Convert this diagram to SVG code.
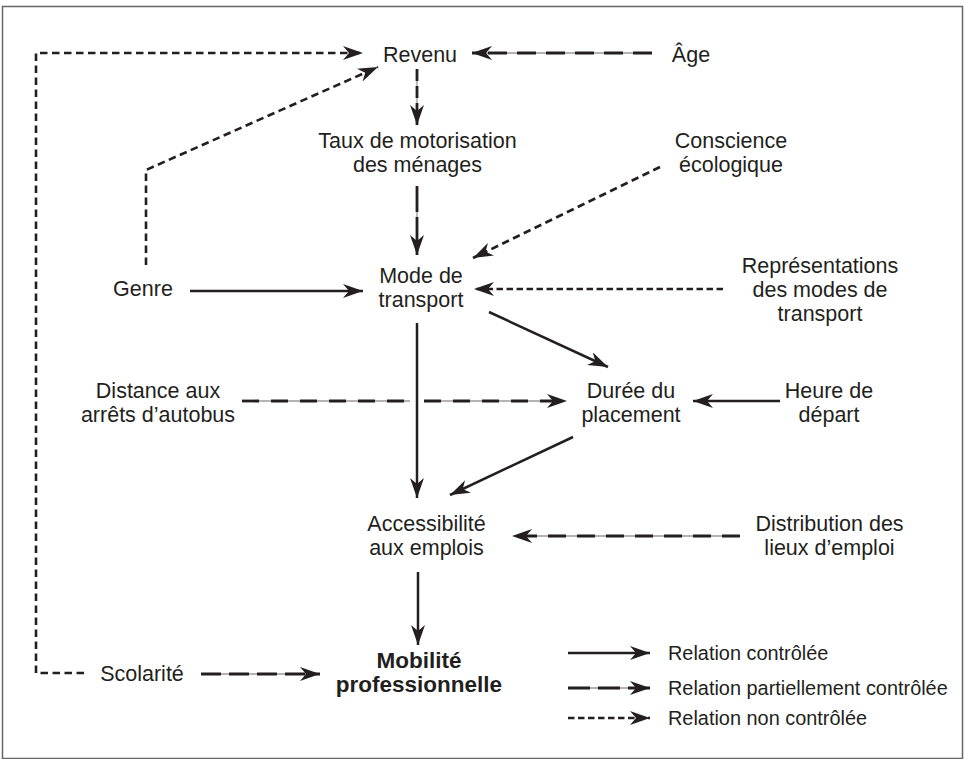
<svg xmlns="http://www.w3.org/2000/svg" width="965" height="759" viewBox="0 0 965 759">
<style>
text{font-family:"Liberation Sans",Arial,sans-serif;font-size:21.5px;fill:#231f20;text-anchor:middle}
.leg{font-size:19.9px;text-anchor:start}
.b{font-weight:bold;font-size:22.5px}
.solid{stroke:#231f20;stroke-width:2.5;fill:none}
.part{stroke:#231f20;stroke-width:2.8;fill:none;stroke-dasharray:19 10}
.grey{stroke:#9a9a9a;stroke-width:1.3;fill:none}
.non{stroke:#231f20;stroke-width:2.6;fill:none;stroke-dasharray:7.5 4.5}
.non2{stroke:#231f20;stroke-width:2.6;fill:none;stroke-dasharray:6.5 3.5}
</style>
<defs>
<marker id="ah" markerUnits="userSpaceOnUse" markerWidth="20" markerHeight="14" viewBox="0 0 20 14" refX="20" refY="7" orient="auto">
<path d="M0,0 L20,7 L0,14 L6,7 z" fill="#231f20"/>
</marker>
</defs>
<rect x="2.5" y="6.5" width="960" height="752" fill="#fff" stroke="#666" stroke-width="1.5"/>

<g id="connectors">
<path class="non" d="M84,673 L36,673 L36,53 L363,53" marker-end="url(#ah)"/>
<path class="non" d="M146,265 L146,170 L378,67" marker-end="url(#ah)"/>
<line class="grey" x1="652" y1="53" x2="478" y2="53"/>
<line class="part" x1="652" y1="53" x2="472" y2="53" marker-end="url(#ah)"/>
<line class="grey" x1="417" y1="69" x2="417" y2="120"/>
<line class="part" style="stroke-dasharray:12 5" x1="417" y1="69" x2="417" y2="125" marker-end="url(#ah)"/>
<line class="grey" x1="417" y1="186" x2="417" y2="250"/>
<line class="part" style="stroke-dasharray:26 5" x1="417" y1="186" x2="417" y2="255" marker-end="url(#ah)"/>
<line class="non" x1="660" y1="167" x2="473" y2="258" marker-end="url(#ah)"/>
<line class="solid" x1="190" y1="291" x2="363" y2="291" marker-end="url(#ah)"/>
<line class="non2" x1="723" y1="289" x2="474" y2="289" marker-end="url(#ah)"/>
<line class="solid" x1="489" y1="312" x2="608" y2="367" marker-end="url(#ah)"/>
<line class="solid" x1="417" y1="323" x2="417" y2="498" marker-end="url(#ah)"/>
<line class="grey" x1="242" y1="401" x2="410" y2="401"/>
<line class="part" style="stroke-dasharray:17 12" x1="242" y1="401" x2="410" y2="401"/>
<line class="grey" x1="424" y1="401" x2="560" y2="401"/>
<line class="part" style="stroke-dasharray:17 12" x1="424" y1="401" x2="567" y2="401" marker-end="url(#ah)"/>
<line class="solid" x1="780" y1="401" x2="693" y2="401" marker-end="url(#ah)"/>
<line class="solid" x1="573" y1="437" x2="450" y2="495" marker-end="url(#ah)"/>
<line class="grey" x1="740" y1="536" x2="518" y2="536"/>
<line class="part" style="stroke-dasharray:18 11" x1="740" y1="536" x2="512" y2="536" marker-end="url(#ah)"/>
<line class="solid" x1="418" y1="572" x2="418" y2="645" marker-end="url(#ah)"/>
<line class="grey" x1="201" y1="674" x2="314" y2="674"/>
<line class="part" style="stroke-dasharray:20 8" x1="201" y1="674" x2="320" y2="674" marker-end="url(#ah)"/>
</g>

<g id="revenu"><text x="420" y="62">Revenu</text></g>
<g id="age"><text x="691" y="62">Âge</text></g>
<g id="taux"><text x="417.5" y="148">Taux de motorisation</text><text x="417.5" y="172">des ménages</text></g>
<g id="conscience"><text x="731" y="148">Conscience</text><text x="731" y="172">écologique</text></g>
<g id="genre"><text x="143" y="296">Genre</text></g>
<g id="mode"><text x="421" y="283">Mode de</text><text x="421" y="307">transport</text></g>
<g id="representations"><text x="820" y="273">Représentations</text><text x="820" y="297">des modes de</text><text x="820" y="321">transport</text></g>
<g id="distance"><text x="158" y="398">Distance aux</text><text x="158" y="422">arrêts d’autobus</text></g>
<g id="duree"><text x="631" y="398">Durée du</text><text x="631" y="422">placement</text></g>
<g id="heure"><text x="829" y="398">Heure de</text><text x="829" y="422">départ</text></g>
<g id="accessibilite"><text x="426.5" y="531">Accessibilité</text><text x="426.5" y="555">aux emplois</text></g>
<g id="distribution"><text x="829.5" y="531">Distribution des</text><text x="829.5" y="555">lieux d’emploi</text></g>
<g id="scolarite"><text x="142" y="681">Scolarité</text></g>
<g id="mobilite"><text class="b" x="419" y="668">Mobilité</text><text class="b" x="419" y="692">professionnelle</text></g>

<g id="legend">
<line class="solid" x1="568" y1="653" x2="650" y2="653" marker-end="url(#ah)"/>
<text class="leg" x="668" y="660">Relation contrôlée</text>
<line class="grey" x1="568" y1="688" x2="644" y2="688"/>
<line class="part" style="stroke-dasharray:22 8" x1="568" y1="688" x2="650" y2="688" marker-end="url(#ah)"/>
<text class="leg" x="668" y="695">Relation partiellement contrôlée</text>
<line class="non2" x1="568" y1="718" x2="650" y2="718" marker-end="url(#ah)"/>
<text class="leg" x="668" y="725">Relation non contrôlée</text>
</g>
</svg>
